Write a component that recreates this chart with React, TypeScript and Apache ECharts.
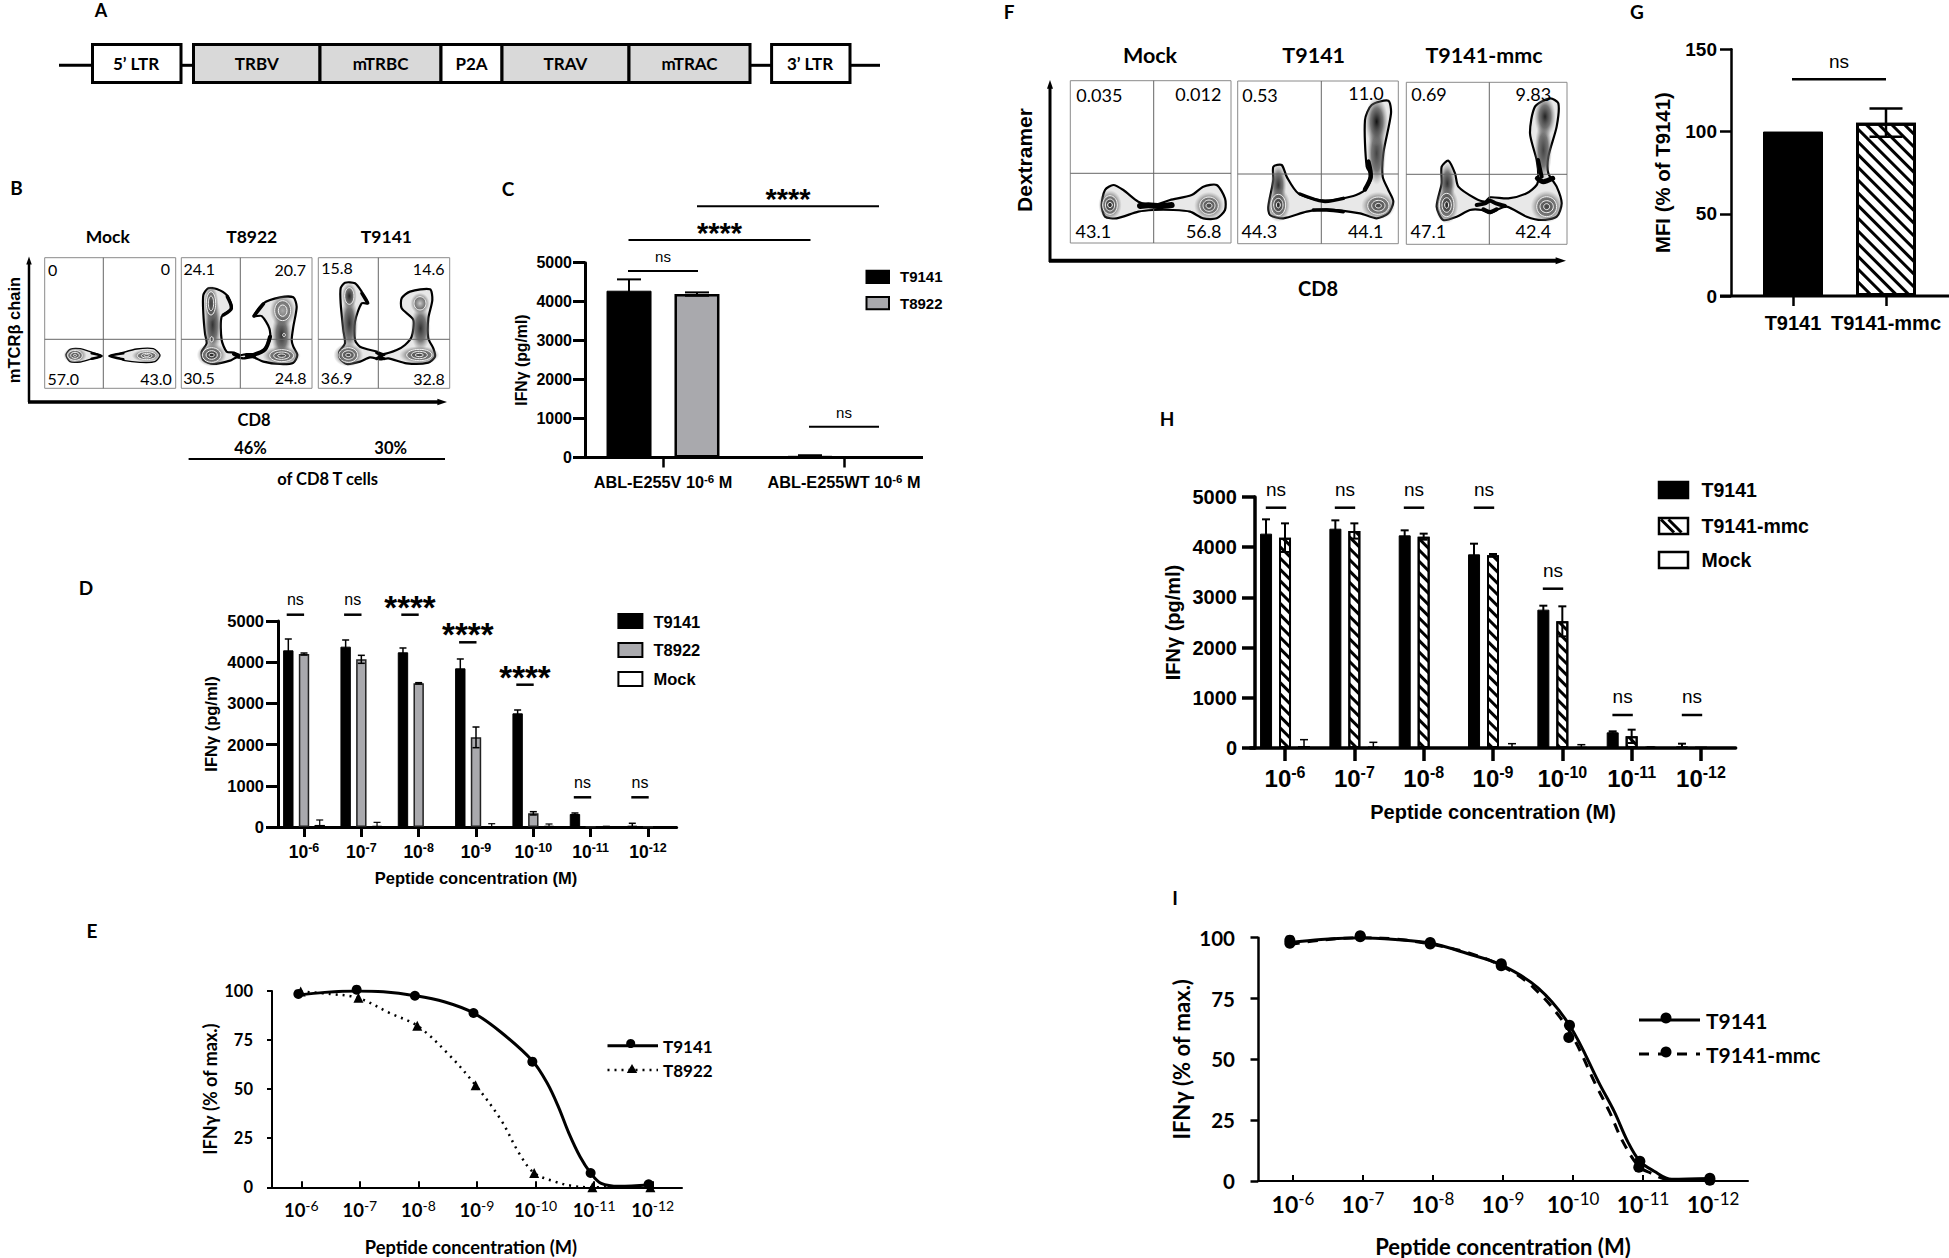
import React, { useEffect, useRef } from 'react';
import * as echarts from 'echarts';

// tick labels and series
const exponents = ['-6', '-7', '-8', '-9', '-10', '-11', '-12'];

// panel C
const cCategories = ['ABL-E255V', 'ABL-E255WT'];
const cT9141 = [4281, 43];
const cT9141Err = [291, 15];
const cT8922 = [4195, 5];
const cT8922Err = [43, 0];

// panel D
const dT9141 = [4288, 4377, 4240, 3851, 2759, 316, 32];
const dT9141Err = [275, 162, 105, 227, 81, 24, 58];
const dT8922 = [4199, 4070, 3487, 2176, 332, 8, 8];
const dT8922Err = [24, 97, 16, 251, 40, 0, 0];
const dMock = [50, 24, 2, 10, 25, 12, 0];
const dMockErr = [120, 89, 0, 70, 48, 6, 0];

// panel H
const hT9141 = [4270, 4369, 4236, 3858, 2756, 312, 33];
const hT9141Err = [285, 166, 100, 212, 79, 20, 53];
const hMmc = [4190, 4323, 4210, 3838, 2523, 232, 5];
const hMmcErr = [285, 152, 60, 27, 299, 133, 0];
const hMock = [40, 27, 3, 10, 20, 15, 0];
const hMockErr = [126, 86, 0, 76, 46, 5, 0];

// panel G
const gCategories = ['T9141', 'T9141-mmc'];
const gValues = [100, 105.4];
const gErr = [0, 8.6];

// panel E, [position on the concentration axis, % of max]
const eT9141Points = [[-0.05, 98.5], [0.945, 100.7], [1.94, 97.6], [2.94, 88.8], [3.945, 64], [4.94, 7.3], [5.93, 1.5]];
const eT8922Points = [[-0.01, 99.7], [0.976, 96.6], [1.98, 82.3], [2.976, 52], [3.976, 7.3], [4.97, 0], [5.96, 0]];
const eT9141Curve = [[-0.05, 98], [0.4, 99.3], [0.945, 100], [1.4, 99.6], [1.94, 97.6], [2.44, 94.5], [2.94, 88.8], [3.41, 79], [3.945, 64.5], [4.2, 53], [4.39, 41], [4.57, 27.5], [4.76, 15.6], [4.94, 7.3], [5.12, 2], [5.43, 0.5], [5.93, 1.2]];
const eT8922Curve = [[-0.01, 99.7], [0.49, 98.5], [0.976, 96.4], [1.52, 88.6], [1.98, 82.3], [2.5, 68.2], [2.976, 52], [3.41, 34.3], [3.72, 17.3], [3.976, 7.3], [4.33, 2.9], [4.63, 0.7], [4.97, 0], [5.96, 0]];

// panel I
const iT9141Points = [[-0.045, 99], [0.96, 100.8], [1.96, 98], [2.975, 89.3], [3.95, 64], [4.955, 8.1], [5.955, 1.1]];
const iMmcPoints = [[-0.045, 97.7], [0.96, 100.4], [1.96, 97.4], [2.975, 88.5], [3.94, 59], [4.94, 5.7], [5.955, 0.3]];
const iT9141Curve = [[-0.045, 98], [0.4, 99.3], [0.96, 100], [1.46, 99.3], [1.96, 97.8], [2.48, 93.6], [2.975, 88.8], [3.5, 79.4], [3.95, 64], [4.39, 39.3], [4.59, 28.5], [4.78, 16.3], [4.955, 8.1], [5.16, 4], [5.41, 0.7], [5.955, 1]];
const iMmcCurve = [[-0.045, 97.2], [0.4, 99], [0.96, 100], [1.46, 99.5], [1.96, 97.4], [2.48, 94], [2.975, 88.5], [3.44, 79.4], [3.94, 62], [4.33, 39.3], [4.52, 28.5], [4.71, 16.3], [4.94, 6], [5.1, 3.4], [5.35, 0.7], [5.955, 0.3]];

// flow plot texts
const bLabels = ['0', '0', '57.0', '43.0', '24.1', '20.7', '30.5', '24.8', '15.8', '14.6', '36.9', '32.8'];
const fLabels = ['0.035', '0.012', '43.1', '56.8', '0.53', '11.0', '44.3', '44.1', '0.69', '9.83', '47.1', '42.4'];

const ARIAL = '"Liberation Sans", Arial, sans-serif';
const LATO = 'Lato, "Noto Sans", sans-serif';
const GREY = '#a9a9ad';

type Pts = number[][];
type El = any;

const txt = (text: string, x: number, y: number, fontSize: number, opts: any = {}): El => ({
  type: 'text',
  x,
  y,
  rotation: opts.rotation || 0,
  z: 20,
  style: {
    text,
    fontSize,
    fontFamily: opts.font || LATO,
    fontWeight: opts.weight || 'bold',
    fill: '#000',
    align: opts.align || 'center',
    verticalAlign: 'middle',
  },
});

const line = (x1: number, y1: number, x2: number, y2: number, lineWidth = 2, z = 15, lineDash?: number[]): El => ({
  type: 'line',
  z,
  shape: { x1, y1, x2, y2 },
  style: { stroke: '#000', lineWidth, lineDash },
});

const box = (x: number, y: number, width: number, height: number, fill: string, lineWidth = 2, stroke = '#000'): El => ({
  type: 'rect',
  z: 15,
  shape: { x, y, width, height },
  style: { fill, stroke, lineWidth },
});

const arrowUp = (x: number, y: number, s: number): El => ({
  type: 'polygon',
  z: 15,
  shape: { points: [[x, y], [x - s * 0.55, y + s * 1.6], [x + s * 0.55, y + s * 1.6]] },
  style: { fill: '#000' },
});

const arrowRight = (x: number, y: number, s: number): El => ({
  type: 'polygon',
  z: 15,
  shape: { points: [[x, y], [x - s * 1.6, y - s * 0.55], [x - s * 1.6, y + s * 0.55]] },
  style: { fill: '#000' },
});

// significance bracket: label above a short bar
const sig = (text: string, cx: number, textY: number, lineY: number, half: number, fontSize: number, lw = 2.5): El[] => {
  const stars = text.startsWith('*');
  return [
    txt(text, cx, textY + (stars ? fontSize * 0.2 : 0), fontSize, { font: ARIAL, weight: stars ? 'bold' : 'normal' }),
    line(cx - half, lineY, cx + half, lineY, lw),
  ];
};

const hatchSwatch = (x: number, y: number, w: number, h: number): El[] => {
  const out: El[] = [box(x, y, w, h, '#fff', 2.5)];
  for (let t = 0; t < w - h; t += 7.5) {
    out.push(line(x + t + 2, y + 1.5, x + t + h - 1, y + h - 1.5, 3, 16));
  }
  return out;
};

// --- Panel A construct ---
const panelA = (): El[] => {
  const y0 = 44.5;
  const h = 38;
  const out: El[] = [
    line(59, 65.3, 92, 65.3, 3),
    line(181, 65.3, 194, 65.3, 3),
    line(750, 65.3, 772, 65.3, 3),
    line(850, 65.3, 880, 65.3, 3),
    box(92.5, y0, 88.5, h, '#fff', 3),
    box(771.6, y0, 78.4, h, '#fff', 3),
  ];
  const parts: [number, number, string, string][] = [
    [193.5, 320, '#d9d9d9', 'TRBV'],
    [320, 441, '#d9d9d9', 'mTRBC'],
    [441, 502, '#fff', 'P2A'],
    [502, 629, '#d9d9d9', 'TRAV'],
    [629, 750, '#d9d9d9', 'mTRAC'],
  ];
  parts.forEach(([a, b, fill, label]) => {
    out.push(box(a, y0, b - a, h, fill, 3));
    out.push(txt(label, (a + b) / 2, 63.5, 17));
  });
  out.push(txt('5\u2019 LTR', 136, 63.5, 17));
  out.push(txt('3\u2019 LTR', 810, 63.5, 17));
  return out;
};

// --- Flow plots: outlines traced in px of the zoomed crop (3x) ---
const tr = (pts: Pts, ox: number, oy: number): Pts => pts.map(([x, y]) => [x / 3 + ox, y / 3 + oy]);

const blob = (pts: Pts, ox: number, oy: number, lw = 2.2): El => ({
  type: 'polygon',
  z: 12,
  shape: { points: tr(pts, ox, oy), smooth: 0.25 },
  style: { fill: '#e8e8e8', stroke: '#000', lineWidth: lw, lineJoin: 'round' },
});

// heavy black outline where the contour lines pile up
const ink = (pts: Pts, ox: number, oy: number, lw = 3.5): El => ({
  type: 'polyline',
  z: 14,
  shape: { points: tr(pts, ox, oy), smooth: 0.3 },
  style: { fill: 'none', stroke: '#000', lineWidth: lw, lineCap: 'round' },
});

// grey shading inside a lobe, fades out before the outline
const glow = (cx: number, cy: number, rx: number, ry: number, ox: number, oy: number, core = '#555'): El => ({
  type: 'ellipse',
  z: 13,
  shape: { cx: cx / 3 + ox, cy: cy / 3 + oy, rx: rx / 3, ry: ry / 3 },
  style: {
    fill: new echarts.graphic.RadialGradient(0.5, 0.5, 0.5, [
      { offset: 0, color: core },
      { offset: 0.55, color: 'rgba(90,90,90,0.8)' },
      { offset: 1, color: 'rgba(140,140,140,0)' },
    ]),
  },
});

// dense spot: shading plus pale contour rings, ring = [rx, ry]
const spot = (cx: number, cy: number, rings: number[][], ox: number, oy: number, core = '#444', grow = 1.6): El[] => {
  const x = cx / 3 + ox;
  const y = cy / 3 + oy;
  const [rx, ry] = rings[0];
  const out: El[] = [glow(cx, cy, rx * grow, ry * grow, ox, oy, core)];
  rings.forEach(([a, b]) => {
    out.push({
      type: 'ellipse',
      z: 14,
      shape: { cx: x, cy: y, rx: a / 3, ry: b / 3 },
      style: { fill: 'none', stroke: '#f2f2f2', lineWidth: 1 },
    });
  });
  return out;
};

const quadrant = (x0: number, x1: number, y0: number, y1: number, vx: number, hy: number): El[] => [
  { type: 'rect', z: 11, shape: { x: x0, y: y0, width: x1 - x0, height: y1 - y0 }, style: { fill: '#fff', stroke: '#8a8a8a', lineWidth: 1 } },
  { type: 'line', z: 14, shape: { x1: vx, y1: y0, x2: vx, y2: y1 }, style: { stroke: '#666', lineWidth: 1 } },
  { type: 'line', z: 14, shape: { x1: x0, y1: hy, x2: x1, y2: hy }, style: { stroke: '#666', lineWidth: 1 } },
];

const panelB = (): El[] => {
  const ox = 30;
  const oy = 240;
  const out: El[] = [
    ...quadrant(44.7, 175.7, 257.7, 388.3, 103.3, 339.3),
    ...quadrant(181.3, 312, 257.7, 388.3, 240.3, 339.3),
    ...quadrant(318.3, 449.7, 257.7, 388.3, 378.3, 339.3),
  ];
  out.push(blob([[108, 345], [120, 328], [150, 326], [180, 335], [215, 348], [180, 358], [150, 366], [120, 365]], ox, oy, 1.4));
  out.push(...spot(135, 346, [[22, 15], [13, 9], [5, 3]], ox, oy));
  out.push(ink([[185, 340], [215, 348], [185, 356]], ox, oy, 2.5));
  out.push(blob([[238, 348], [270, 340], [320, 327], [370, 326], [390, 345], [375, 365], [330, 367], [285, 362], [265, 353]], ox, oy, 1.4));
  out.push(...spot(350, 347, [[28, 12], [16, 7], [8, 3]], ox, oy));
  out.push(ink([[280, 340], [238, 348], [280, 358]], ox, oy, 2.5));
  out.push(blob([[520, 165], [535, 145], [560, 147], [590, 165], [605, 205], [575, 230], [575, 300], [590, 335], [612, 338], [630, 345], [650, 342], [672, 342], [700, 330], [720, 298], [718, 265], [695, 228], [672, 228], [700, 190], [750, 172], [790, 172], [800, 200], [790, 260], [785, 300], [790, 320], [802, 345], [790, 368], [750, 372], [700, 365], [670, 352], [640, 355], [620, 352], [600, 362], [550, 372], [520, 360], [515, 335], [530, 310], [525, 280], [520, 220]], ox, oy));
  out.push(glow(548, 255, 26, 90, ox, oy, '#333'));
  out.push(glow(755, 285, 30, 75, ox, oy, '#333'));
  out.push(...spot(543, 190, [[14, 35], [8, 22]], ox, oy));
  out.push(...spot(545, 345, [[28, 22], [17, 13], [8, 5]], ox, oy, '#222'));
  out.push(...spot(758, 212, [[24, 30], [13, 17]], ox, oy, '#aaa'));
  out.push(...spot(755, 347, [[36, 18], [24, 11], [12, 5]], ox, oy));
  out.push(...spot(545, 298, [[5, 8]], ox, oy, '#222', 1.2));
  out.push(...spot(762, 285, [[4, 5]], ox, oy, '#222', 1.2));
  out.push(ink([[592, 170], [604, 205], [580, 225]], ox, oy, 3.5));
  out.push(ink([[672, 228], [700, 192]], ox, oy, 3.5));
  out.push(ink([[720, 290], [705, 328], [672, 344]], ox, oy, 4));
  out.push(ink([[612, 342], [625, 348]], ox, oy, 4));
  out.push(ink([[650, 346], [672, 348]], ox, oy, 4));
  out.push(blob([[932, 145], [945, 128], [975, 130], [995, 155], [1015, 190], [995, 190], [975, 245], [975, 300], [990, 320], [1040, 335], [1060, 342], [1100, 330], [1125, 315], [1145, 290], [1150, 240], [1115, 205], [1115, 175], [1140, 155], [1200, 148], [1207, 180], [1195, 235], [1195, 295], [1210, 325], [1215, 350], [1195, 368], [1130, 370], [1075, 355], [1050, 358], [1020, 352], [990, 365], [950, 372], [930, 355], [928, 335], [945, 310], [940, 270], [932, 190]], ox, oy));
  out.push(glow(958, 250, 26, 85, ox, oy, '#333'));
  out.push(glow(1172, 265, 30, 70, ox, oy, '#333'));
  out.push(...spot(958, 168, [[14, 25]], ox, oy, '#222'));
  out.push(...spot(955, 345, [[28, 22], [18, 13], [8, 5]], ox, oy));
  out.push(...spot(1170, 190, [[18, 20]], ox, oy, '#ccc'));
  out.push(...spot(1168, 345, [[38, 17], [24, 11], [12, 5]], ox, oy));
  out.push(ink([[1040, 338], [1052, 348], [1040, 356]], ox, oy, 3));
  out.push(ink([[1062, 344], [1050, 350], [1062, 356]], ox, oy, 3));
  out.push(ink([[995, 160], [1012, 188]], ox, oy, 3));
  const pos = [[68, 88], [406, 84], [100, 415], [378, 415], [508, 86], [781, 87], [507, 412], [782, 412], [921, 82], [1196, 85], [920, 413], [1197, 415]];
  bLabels.forEach((s, i) => out.push(txt(s, pos[i][0] / 3 + ox, pos[i][1] / 3 + oy, 16, { weight: 'normal' })));
  out.push(
    line(29, 402, 29, 264, 2.5), arrowUp(29, 256.5, 5),
    line(28, 402, 438, 402, 3.5), arrowRight(447, 402, 6),
    txt('mTCR\u03B2 chain', 14, 330, 16.5, { font: ARIAL, rotation: Math.PI / 2 }),
    txt('Mock', 107.8, 236.7, 17.5), txt('T8922', 251.7, 236.7, 17.5), txt('T9141', 386.4, 236.7, 17.5),
    txt('CD8', 254, 420, 16.5), txt('46%', 250.5, 447.7, 16.5), txt('30%', 390.7, 447.7, 16.5),
    line(188.6, 459, 445, 459, 2),
    txt('of CD8 T cells', 327.6, 479, 16.5),
  );
  return out;
};

const panelF = (): El[] => {
  const ox = 1060;
  const oy = 70;
  const out: El[] = [
    ...quadrant(1070.3, 1231, 80.7, 243, 1153.7, 173.3),
    ...quadrant(1237.7, 1398.3, 81, 243.7, 1321.3, 174),
    ...quadrant(1406.3, 1567, 82.3, 244.3, 1489.3, 174.3),
  ];
  out.push(blob([[125, 405], [135, 360], [160, 345], [190, 360], [235, 395], [280, 405], [330, 390], [395, 375], [430, 350], [470, 345], [495, 385], [495, 420], [470, 445], [430, 445], [390, 425], [340, 420], [280, 420], [235, 425], [170, 445], [135, 440]], ox, oy));
  out.push(...spot(150, 405, [[22, 28], [14, 18], [7, 8]], ox, oy, '#222'));
  out.push(...spot(447, 407, [[28, 26], [18, 17], [9, 8]], ox, oy));
  out.push(ink([[240, 408], [265, 406], [300, 408], [335, 405]], ox, oy, 6));
  out.push(blob([[625, 410], [640, 330], [640, 290], [665, 285], [680, 320], [715, 370], [790, 392], [880, 378], [915, 360], [935, 320], [920, 290], [915, 150], [935, 105], [985, 92], [993, 130], [970, 250], [968, 320], [985, 360], [1000, 395], [985, 430], [950, 445], [900, 430], [800, 418], [740, 425], [670, 445], [630, 435]], ox, oy));
  out.push(glow(655, 345, 24, 62, ox, oy, '#333'));
  out.push(glow(950, 250, 28, 95, ox, oy, '#444'));
  out.push(...spot(655, 405, [[22, 32], [14, 20], [6, 9]], ox, oy, '#222'));
  out.push(...spot(955, 407, [[32, 26], [20, 16], [9, 7]], ox, oy));
  out.push(glow(950, 155, 34, 75, ox, oy, '#111'));
  out.push(ink([[720, 372], [790, 394], [850, 385]], ox, oy, 3.5));
  out.push(ink([[760, 420], [800, 420], [850, 425]], ox, oy, 3.5));
  out.push(ink([[925, 275], [932, 320], [915, 358]], ox, oy, 4.5));
  out.push(blob([[1130, 410], [1145, 340], [1145, 290], [1165, 272], [1185, 310], [1195, 350], [1245, 385], [1275, 395], [1290, 382], [1345, 385], [1400, 370], [1430, 345], [1435, 320], [1430, 270], [1410, 190], [1425, 110], [1470, 85], [1495, 100], [1490, 170], [1465, 260], [1465, 310], [1490, 350], [1505, 400], [1490, 440], [1445, 450], [1400, 440], [1340, 410], [1310, 420], [1290, 430], [1265, 420], [1230, 420], [1190, 440], [1150, 450]], ox, oy));
  out.push(glow(1162, 340, 24, 62, ox, oy, '#333'));
  out.push(glow(1450, 240, 26, 90, ox, oy, '#444'));
  out.push(...spot(1160, 405, [[22, 35], [14, 22], [6, 10]], ox, oy, '#222'));
  out.push(...spot(1460, 410, [[30, 30], [20, 18], [9, 9]], ox, oy));
  out.push(glow(1455, 140, 32, 62, ox, oy, '#222'));
  out.push(ink([[1250, 405], [1275, 400], [1290, 392], [1308, 400], [1335, 408]], ox, oy, 4));
  out.push(ink([[1270, 418], [1290, 426], [1310, 418]], ox, oy, 4));
  out.push(ink([[1432, 325], [1450, 335], [1478, 325]], ox, oy, 5));
  out.push(ink([[1434, 270], [1445, 320]], ox, oy, 4));
  const pos = [[118, 75], [415, 72], [100, 483], [431, 483], [600, 75], [918, 70], [598, 483], [917, 483], [1107, 72], [1420, 72], [1105, 483], [1420, 483]];
  fLabels.forEach((s, i) => out.push(txt(s, pos[i][0] / 3 + ox, pos[i][1] / 3 + oy, 18, { weight: 'normal' })));
  out.push(
    line(1050, 262, 1050, 88, 3), arrowUp(1050, 80, 5.5),
    line(1049, 260.7, 1556, 260.7, 4), arrowRight(1566, 260.7, 6.5),
    txt('Dextramer', 1024.5, 160, 21, { font: ARIAL, rotation: Math.PI / 2 }),
    txt('CD8', 1318, 288, 20),
    txt('Mock', 1150, 55, 21.5), txt('T9141', 1313.7, 55, 21.5), txt('T9141-mmc', 1484, 55, 21.5),
  );
  return out;
};

const legendsAndMarks = (): El[] => [
  // panel letters
  txt('A', 101, 10, 18), txt('B', 16.5, 187.7, 19), txt('C', 508, 188, 19), txt('D', 86, 587, 19),
  txt('E', 92, 930, 19), txt('F', 1009, 11, 19), txt('G', 1637, 11, 19), txt('H', 1167, 418, 19), txt('I', 1175, 897, 19),
  // C
  ...sig('****', 788, 192.7, 206.3, 91, 29, 2),
  ...sig('****', 719.5, 226.7, 240, 91, 29, 2),
  ...sig('ns', 663, 256.7, 271, 35, 15, 2),
  ...sig('ns', 844, 412, 426.7, 35, 15, 2),
  line(574, 457.5, 923, 457.5, 3),
  box(866.5, 270.7, 22.5, 12.3, '#000', 2),
  box(866.5, 297, 22.5, 12.3, GREY, 2),
  txt('T9141', 900, 276, 15, { font: ARIAL, align: 'left' }),
  txt('T8922', 900, 303.6, 15, { font: ARIAL, align: 'left' }),
  // D
  ...sig('ns', 295.4, 599, 614.7, 8.7, 16),
  ...sig('ns', 352.8, 599, 614.7, 8.7, 16),
  ...sig('****', 410, 600.7, 614.7, 8.7, 33),
  ...sig('****', 467.8, 628.3, 642.3, 8.7, 33),
  ...sig('****', 525, 671, 684.7, 8.7, 33),
  ...sig('ns', 582.5, 782.3, 797.3, 8.7, 16),
  ...sig('ns', 640, 782.3, 797.3, 8.7, 16),
  box(618.4, 614, 24, 14, '#000', 2),
  box(618.4, 643, 24, 14, GREY, 2),
  box(618.4, 672, 24, 14, '#fff', 2),
  txt('T9141', 653.5, 621.7, 16.5, { font: ARIAL, align: 'left' }),
  txt('T8922', 653.5, 650, 16.5, { font: ARIAL, align: 'left' }),
  txt('Mock', 653.5, 679, 16.5, { font: ARIAL, align: 'left' }),
  // G
  ...sig('ns', 1839, 61, 79.3, 47, 19, 2.5),
  line(1720, 296, 1949, 296, 3),
  // H
  ...sig('ns', 1276, 489, 507.7, 10.2, 19),
  ...sig('ns', 1345, 489, 507.7, 10.2, 19),
  ...sig('ns', 1414, 489, 507.7, 10.2, 19),
  ...sig('ns', 1484, 489, 507.7, 10.2, 19),
  ...sig('ns', 1553, 570, 588.7, 10.2, 19),
  ...sig('ns', 1622.6, 696.7, 715, 10.2, 19),
  ...sig('ns', 1692, 696.7, 715, 10.2, 19),
  box(1659, 482, 29, 16, '#000', 2.5),
  ...hatchSwatch(1659, 518, 29, 16),
  box(1659, 552, 29, 16, '#fff', 2.5),
  txt('T9141', 1701.6, 490, 19.5, { font: ARIAL, align: 'left' }),
  txt('T9141-mmc', 1701.6, 526, 19.5, { font: ARIAL, align: 'left' }),
  txt('Mock', 1701.6, 560, 19.5, { font: ARIAL, align: 'left' }),
  // E
  line(607.5, 1045.7, 658, 1045.7, 3),
  { type: 'circle', z: 16, shape: { cx: 630.7, cy: 1043.5, r: 4.5 }, style: { fill: '#000' } },
  line(607.5, 1070, 658, 1070, 2.5, 15, [2, 5]),
  { type: 'polygon', z: 16, shape: { points: [[632, 1064], [626.8, 1073], [637.2, 1073]] }, style: { fill: '#000' } },
  txt('T9141', 663, 1046.7, 17, { align: 'left' }),
  txt('T8922', 663, 1070, 17, { align: 'left' }),
  // I
  line(1639, 1020, 1700, 1020, 3),
  { type: 'circle', z: 16, shape: { cx: 1666, cy: 1018, r: 5.5 }, style: { fill: '#000' } },
  line(1639, 1054, 1700, 1054, 3, 15, [10, 9]),
  { type: 'circle', z: 16, shape: { cx: 1666, cy: 1052, r: 5.5 }, style: { fill: '#000' } },
  txt('T9141', 1706, 1020, 21, { align: 'left' }),
  txt('T9141-mmc', 1706, 1054, 21, { align: 'left' }),
];

// --- ECharts helpers ---
const yAxisOf = (gridIndex: number, max: number, interval: number, o: any): any => ({
  type: 'value',
  gridIndex,
  min: 0,
  max,
  interval,
  offset: o.offset || 0,
  name: o.name,
  nameLocation: 'middle',
  nameGap: o.nameGap,
  nameRotate: 90,
  nameMoveOverlap: false,
  nameTextStyle: { fontFamily: o.font || ARIAL, fontWeight: 'bold', fontSize: o.nameSize, color: '#000' },
  axisLine: { show: true, onZero: false, lineStyle: { color: '#000', width: o.width || 3 } },
  axisTick: { show: true, length: o.tick, lineStyle: { color: '#000', width: o.width || 3 } },
  axisLabel: { margin: o.margin, formatter: (v: number) => String(v), fontFamily: o.font || ARIAL, fontWeight: 'bold', fontSize: o.size, color: '#000' },
  splitLine: { show: false },
});

const expAxis = (gridIndex: number, o: any): any => ({
  type: 'category',
  gridIndex,
  data: exponents,
  name: o.name,
  nameLocation: 'middle',
  nameGap: o.nameGap,
  nameMoveOverlap: false,
  nameTextStyle: { fontFamily: o.font, fontWeight: 'bold', fontSize: o.nameSize, color: '#000', padding: o.namePadding || 0 },
  axisLine: { show: true, onZero: false, lineStyle: { color: '#000', width: o.width || 3 } },
  axisTick: { show: true, alignWithLabel: true, inside: !!o.inside, length: o.tick, lineStyle: { color: '#000', width: o.width || 3 } },
  axisLabel: {
    interval: 0,
    margin: o.margin,
    formatter: (v: string) => `{b|10}{s|${v}}`,
    rich: {
      b: { fontFamily: o.font, fontWeight: 'bold', fontSize: o.size, lineHeight: o.lineHeight, color: '#000' },
      s: { fontFamily: o.font, fontWeight: o.supWeight || 'bold', fontSize: o.supSize, lineHeight: o.supLine, verticalAlign: 'top', color: '#000' },
    },
  },
});

const hiddenPosAxis = (gridIndex: number): any => ({ type: 'value', gridIndex, min: -0.5, max: 6.5, show: false, splitLine: { show: false } });

const barSeries = (name: string, axis: number, values: number[], width: number, gapPct: string, itemStyle: any): any => ({
  type: 'bar',
  name,
  xAxisIndex: axis,
  yAxisIndex: axis,
  data: values,
  barWidth: width,
  barGap: gapPct,
  z: 2,
  itemStyle,
});

const whiskers = (axis: number, values: number[], errs: number[], offset: number, cap: number, lw: number): any => ({
  type: 'custom',
  xAxisIndex: axis,
  yAxisIndex: axis,
  z: 5,
  silent: true,
  clip: false,
  encode: { x: 0, y: [1, 2] },
  data: values.map((v, i) => [i, v, errs[i]]),
  renderItem: (_: any, api: any) => {
    const idx = api.value(0);
    const v = api.value(1);
    const e = api.value(2);
    if (!e) return null;
    const x = api.coord([idx, 0])[0] + offset;
    const hi = api.coord([idx, v + e])[1];
    const loV = v - e;
    const lo = api.coord([idx, Math.max(loV, 0)])[1];
    const style = { stroke: '#000', lineWidth: lw };
    const children: any[] = [
      { type: 'line', shape: { x1: x, y1: lo, x2: x, y2: hi }, style },
      { type: 'line', shape: { x1: x - cap / 2, y1: hi, x2: x + cap / 2, y2: hi }, style },
    ];
    if (loV > 0) children.push({ type: 'line', shape: { x1: x - cap / 2, y1: lo, x2: x + cap / 2, y2: lo }, style });
    return { type: 'group', children };
  },
});

const hatch = (gap: number, lw: number) => ({
  color: '#fff',
  borderColor: '#000',
  borderWidth: 2,
  decal: {
    symbol: 'rect',
    symbolSize: 1,
    color: '#000',
    backgroundColor: '#fff',
    dashArrayX: [1, 0],
    dashArrayY: [lw, gap],
    rotation: Math.PI / 4,
  },
});

const curve = (name: string, x: number, y: number, data: Pts, width: number, type: any): any => ({
  type: 'line',
  name,
  xAxisIndex: x,
  yAxisIndex: y,
  data,
  smooth: 0.35,
  symbol: 'none',
  z: 3,
  lineStyle: { color: '#000', width, type },
});

const markers = (name: string, x: number, y: number, data: Pts, symbol: string, size: number): any => ({
  type: 'scatter',
  name,
  xAxisIndex: x,
  yAxisIndex: y,
  data,
  symbol,
  symbolSize: size,
  z: 4,
  clip: false,
  itemStyle: { color: '#000', opacity: 1 },
});

const black = { color: '#000', borderColor: '#000', borderWidth: 1 };
const grey = { color: GREY, borderColor: '#222', borderWidth: 1.5 };
const white = { color: '#fff', borderColor: '#000', borderWidth: 1.5 };
const greyC = { color: GREY, borderColor: '#000', borderWidth: 2.5 };

const App: React.FC = () => {
  const chartRef = useRef<HTMLDivElement>(null);

  useEffect(() => {
    if (!chartRef.current) return;
    const chart = echarts.init(chartRef.current, undefined, { renderer: 'svg' });

    const option: any = {
      animation: false,
      backgroundColor: '#fff',
      grid: [
        { left: 572.5, top: 262.7, width: 362, height: 194.8 }, // C
        { left: 275.35, top: 621, width: 401.3, height: 206 }, // D
        { left: 1250.35, top: 497, width: 485.3, height: 251 }, // H
        { left: 1746.5, top: 49.3, width: 186, height: 246.7 }, // G
        { left: 272, top: 991, width: 410, height: 196.3 }, // E
        { left: 1258, top: 937.7, width: 490, height: 245.6 }, // I
      ],
      xAxis: [
        {
          type: 'category',
          gridIndex: 0,
          data: cCategories,
          axisLine: { show: false, onZero: false },
          axisTick: { show: true, alignWithLabel: true, length: 10, lineStyle: { color: '#000', width: 2.5 } },
          axisLabel: {
            interval: 0,
            margin: 15,
            formatter: (v: string) => `{b|${v} 10}{s|-6}{b| M}`,
            rich: {
              b: { fontFamily: ARIAL, fontWeight: 'bold', fontSize: 16.3, lineHeight: 19, color: '#000' },
              s: { fontFamily: ARIAL, fontWeight: 'bold', fontSize: 11.5, lineHeight: 12, verticalAlign: 'top', color: '#000' },
            },
          },
        },
        expAxis(1, { name: 'Peptide concentration (M)', nameGap: 42, nameSize: 16.5, font: ARIAL, tick: 10, margin: 14, size: 17.5, lineHeight: 21, supSize: 12.5, supLine: 13 }),
        expAxis(2, { name: 'Peptide concentration (M)', nameGap: 54, nameSize: 20, font: ARIAL, tick: 13, margin: 16, size: 24, lineHeight: 28, supSize: 16, supLine: 18, width: 3.5 }),
        {
          type: 'category',
          gridIndex: 3,
          data: gCategories,
          axisLine: { show: false, onZero: false },
          axisTick: { show: true, alignWithLabel: true, length: 10, lineStyle: { color: '#000', width: 2.5 } },
          axisLabel: { interval: 0, margin: 17, fontFamily: ARIAL, fontWeight: 'bold', fontSize: 20, color: '#000' },
        },
        expAxis(4, { name: 'Peptide concentration (M)', nameGap: 51, nameSize: 18.3, font: LATO, tick: 6, inside: true, margin: 11, size: 18.5, lineHeight: 23, supSize: 14, supLine: 16, supWeight: 'normal', width: 2, namePadding: [0, 12, 0, 0] }),
        hiddenPosAxis(4),
        expAxis(5, { name: 'Peptide concentration (M)', nameGap: 54, nameSize: 22, font: LATO, tick: 6, inside: true, margin: 9, size: 23, lineHeight: 27, supSize: 17, supLine: 19, supWeight: 'normal', width: 2 }),
        hiddenPosAxis(5),
      ],
      yAxis: [
        yAxisOf(0, 5000, 1000, { offset: -12.5, name: 'IFN\u03B3 (pg/ml)', nameGap: 56, nameSize: 15.8, tick: 12, margin: 13, size: 16 }),
        yAxisOf(1, 5000, 1000, { offset: -2.65, name: 'IFN\u03B3 (pg/ml)', nameGap: 59, nameSize: 16.5, tick: 12, margin: 14, size: 16.5 }),
        yAxisOf(2, 5000, 1000, { offset: -4.65, name: 'IFN\u03B3 (pg/ml)', nameGap: 72, nameSize: 20, tick: 13, margin: 18, size: 20, width: 3.5 }),
        yAxisOf(3, 150, 50, { offset: 15.5, name: 'MFI (% of T9141)', nameGap: 58, nameSize: 20.4, tick: 11, margin: 14, size: 19, width: 2.5 }),
        yAxisOf(4, 100, 25, { name: 'IFN\u03B3 (% of max.)', nameGap: 53, nameSize: 18, font: LATO, tick: 5, margin: 19, size: 16.5, width: 2 }),
        yAxisOf(5, 100, 25, { name: 'IFN\u03B3 (% of max.)', nameGap: 66, nameSize: 22, font: LATO, tick: 7.5, margin: 23, size: 20.5, width: 2.5 }),
      ],
      series: [
        // C
        barSeries('T9141', 0, cT9141, 45, '51%', black),
        barSeries('T8922', 0, cT8922, 45, '51%', greyC),
        whiskers(0, cT9141, cT9141Err, -34, 24, 2),
        whiskers(0, cT8922, cT8922Err, 34, 24, 2),
        // D
        barSeries('T9141', 1, dT9141, 10.4, '51%', black),
        barSeries('T8922', 1, dT8922, 10.4, '51%', grey),
        barSeries('Mock', 1, dMock, 10.4, '51%', white),
        whiskers(1, dT9141, dT9141Err, -15.7, 7, 1.5),
        whiskers(1, dT8922, dT8922Err, 0, 7, 1.5),
        whiskers(1, dMock, dMockErr, 15.7, 7, 1.2),
        // H
        barSeries('T9141', 2, hT9141, 12, '58%', black),
        barSeries('T9141-mmc', 2, hMmc, 12, '58%', hatch(5, 3)),
        barSeries('Mock', 2, hMock, 12, '58%', white),
        whiskers(2, hT9141, hT9141Err, -19, 8, 2),
        whiskers(2, hMmc, hMmcErr, 0, 8, 2),
        whiskers(2, hMock, hMockErr, 19, 8, 1.5),
        // G
        {
          type: 'bar',
          xAxisIndex: 3,
          yAxisIndex: 3,
          barWidth: 60,
          z: 2,
          data: [
            { value: gValues[0], itemStyle: black },
            { value: gValues[1], itemStyle: { ...hatch(6, 3), borderWidth: 3 } },
          ],
        },
        whiskers(3, gValues, gErr, 0, 33, 2.5),
        // E
        curve('T9141', 5, 4, eT9141Curve, 3, 'solid'),
        curve('T8922', 5, 4, eT8922Curve, 2.5, [2, 5]),
        markers('T9141', 5, 4, eT9141Points, 'circle', 10),
        markers('T8922', 5, 4, eT8922Points, 'triangle', 10),
        // I
        curve('T9141', 7, 5, iT9141Curve, 3, 'solid'),
        curve('T9141-mmc', 7, 5, iMmcCurve, 3, [10, 8]),
        markers('T9141', 7, 5, iT9141Points, 'circle', 11),
        markers('T9141-mmc', 7, 5, iMmcPoints, 'circle', 11),
      ],
      graphic: { elements: [...panelA(), ...panelB(), ...panelF(), ...legendsAndMarks()] },
    };

    chart.setOption(option);
    return () => chart.dispose();
  }, []);

  return <div ref={chartRef} style={{ position: 'absolute', left: 0, top: 0, width: 1949, height: 1258, background: '#fff' }} />;
};

export default App;
